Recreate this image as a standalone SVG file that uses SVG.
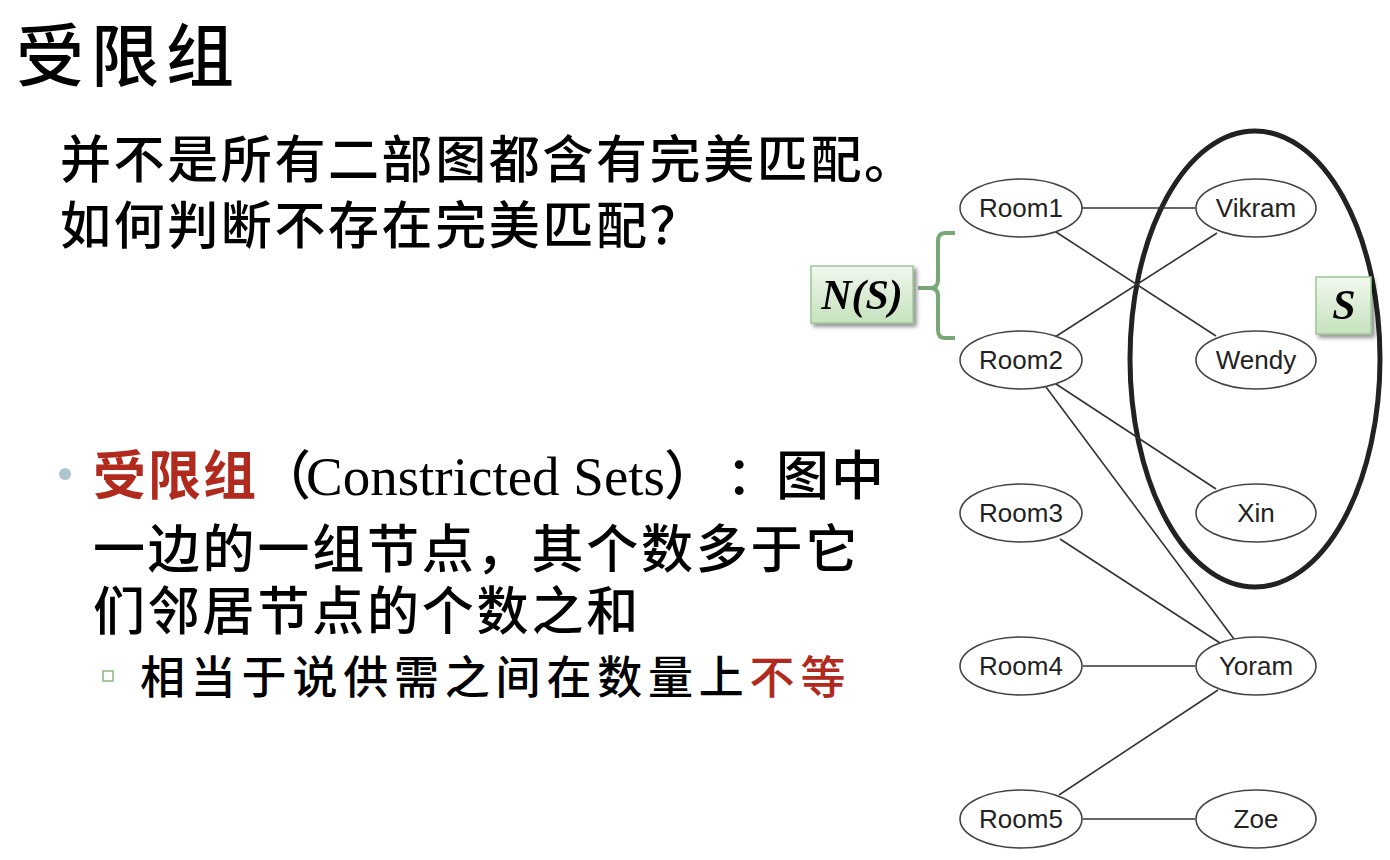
<svg xmlns="http://www.w3.org/2000/svg" width="1390" height="860" viewBox="0 0 1390 860">
  <defs>
    <linearGradient id="tagFill" x1="0" y1="0" x2="0" y2="1">
      <stop offset="0" stop-color="#f1f8ee"/>
      <stop offset="1" stop-color="#c6e2bd"/>
    </linearGradient>
    <filter id="shadow" x="-20%" y="-20%" width="150%" height="150%">
      <feGaussianBlur in="SourceAlpha" stdDeviation="2"/>
      <feOffset dx="3" dy="3" result="b"/>
      <feComponentTransfer><feFuncA type="linear" slope="0.45"/></feComponentTransfer>
      <feMerge><feMergeNode/><feMergeNode in="SourceGraphic"/></feMerge>
    </filter>
    <style>
      .cjk { font-family: "Noto Sans CJK SC", sans-serif; fill: #000; font-weight: 500; }
      .red { fill: #b02a1e; }
      .lat { font-family: "Liberation Serif", "Noto Sans CJK SC", serif; font-weight: normal; }
      .node ellipse { fill: #fff; stroke: #444; stroke-width: 1.6; }
      .node text { font-family: "Liberation Sans", Arial, sans-serif; font-size: 26px; fill: #222; text-anchor: middle; }
      .edge { stroke: #333; stroke-width: 1.6; fill: none; }
      .tag rect { fill: url(#tagFill); stroke: #9cc795; stroke-width: 1.5; }
      .tag text { font-family: "Liberation Serif", serif; font-weight: bold; font-style: italic; font-size: 42px; fill: #000; text-anchor: middle; }
    </style>
  </defs>
  <rect width="1390" height="860" fill="#fff"/>

  <!-- Title and text -->
  <text class="cjk" x="16" y="81" font-size="68" letter-spacing="7">受限组</text>
  <text class="cjk" x="60" y="178" font-size="51" letter-spacing="2.6">并不是所有二部图都含有完美匹配。</text>
  <text class="cjk" x="60" y="244" font-size="51" letter-spacing="2.6">如何判断不存在完美匹配？</text>

  <circle cx="65" cy="474" r="6" fill="#aec4cf"/>
  <text class="cjk" y="495" font-size="53">
    <tspan x="93" class="red" font-weight="bold" letter-spacing="2">受限组</tspan><tspan x="258">（</tspan><tspan x="306" class="lat" font-size="55">Constricted Sets</tspan><tspan x="664">）</tspan><tspan x="726">：</tspan><tspan x="776" letter-spacing="2">图中</tspan>
  </text>
  <text class="cjk" x="93" y="568" font-size="52" letter-spacing="2.8">一边的一组节点，其个数多于它</text>
  <text class="cjk" x="93" y="630" font-size="52" letter-spacing="2.8">们邻居节点的个数之和</text>

  <rect x="103" y="671" width="10" height="10" fill="none" stroke="#a8c8a0" stroke-width="2"/>
  <text class="cjk" x="140" y="694" font-size="45" letter-spacing="5.8">相当于说供需之间在数量上<tspan class="red">不等</tspan></text>

  <!-- Set S outline -->
  <ellipse cx="1255" cy="359" rx="125" ry="228" fill="none" stroke="#222" stroke-width="5"/>

  <!-- Connectors -->
  <g id="edges">
    <line class="edge" x1="1082" y1="208" x2="1195" y2="208"/>
    <line class="edge" x1="1056" y1="232" x2="1216" y2="336"/>
    <line class="edge" x1="1055" y1="337" x2="1217" y2="233"/>
    <line class="edge" x1="1056" y1="384" x2="1216" y2="489"/>
    <line class="edge" x1="1046" y1="387" x2="1234" y2="639"/>
    <line class="edge" x1="1060" y1="539" x2="1220" y2="643"/>
    <line class="edge" x1="1083" y1="666" x2="1195" y2="666"/>
    <line class="edge" x1="1059" y1="795" x2="1218" y2="690"/>
    <line class="edge" x1="1083" y1="819" x2="1195" y2="819"/>
  </g>

  <!-- Left side nodes -->
  <g id="room1" class="node"><ellipse cx="1021" cy="208" rx="61" ry="29"/><text x="1021" y="217">Room1</text></g>
  <g id="room2" class="node"><ellipse cx="1021" cy="360" rx="61" ry="29"/><text x="1021" y="369">Room2</text></g>
  <g id="room3" class="node"><ellipse cx="1021" cy="513" rx="61" ry="29"/><text x="1021" y="522">Room3</text></g>
  <g id="room4" class="node"><ellipse cx="1021" cy="666" rx="61" ry="29"/><text x="1021" y="675">Room4</text></g>
  <g id="room5" class="node"><ellipse cx="1021" cy="819" rx="61" ry="29"/><text x="1021" y="828">Room5</text></g>

  <!-- Right side nodes -->
  <g id="vikram" class="node"><ellipse cx="1256" cy="208" rx="60" ry="29"/><text x="1256" y="217">Vikram</text></g>
  <g id="wendy" class="node"><ellipse cx="1256" cy="360" rx="60" ry="29"/><text x="1256" y="369">Wendy</text></g>
  <g id="xin" class="node"><ellipse cx="1256" cy="513" rx="60" ry="29"/><text x="1256" y="522">Xin</text></g>
  <g id="yoram" class="node"><ellipse cx="1256" cy="666" rx="60" ry="29"/><text x="1256" y="675">Yoram</text></g>
  <g id="zoe" class="node"><ellipse cx="1256" cy="819" rx="60" ry="29"/><text x="1256" y="828">Zoe</text></g>

  <!-- Neighbourhood bracket -->
  <path d="M955,233 L945,233 Q938,233 938,241 L938,280 Q938,288 930,288 L918,288 M930,288 Q938,288 938,296 L938,330 Q938,338 945,338 L955,338" fill="none" stroke="#79a878" stroke-width="4"/>

  <g id="tag-ns" class="tag" filter="url(#shadow)">
    <rect x="811" y="266" width="102" height="57"/>
    <text x="862" y="309">N(S)</text>
  </g>
  <g id="tag-s" class="tag" filter="url(#shadow)">
    <rect x="1316" y="277" width="55" height="57"/>
    <text x="1344" y="319">S</text>
  </g>
</svg>
